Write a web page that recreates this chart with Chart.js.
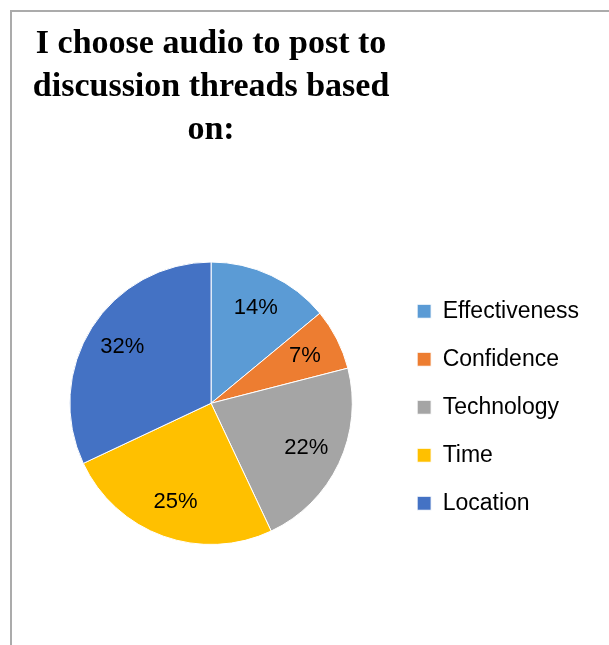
<!DOCTYPE html>
<html>
<head>
<meta charset="utf-8">
<script src="https://cdn.jsdelivr.net/npm/chart.js@4.4.0/dist/chart.umd.min.js"></script>
<style>
  html, body { margin: 0; padding: 0; background: #ffffff; }
  #wrap { position: relative; width: 609px; height: 645px; overflow: hidden; }
  #frame { position: absolute; left: 10px; top: 10px; width: 700px; height: 800px;
           border-left: 2px solid #ababab; border-top: 2px solid #ababab; box-sizing: border-box; }
  canvas { position: absolute; left: 0; top: 0; }
</style>
</head>
<body>
<div id="wrap">
  <div id="frame"></div>
  <canvas id="c" width="609" height="645"></canvas>
</div>
<script>
const titleLines = ["I choose audio to post to", "discussion threads based", "on:"];
const categories = ["Effectiveness", "Confidence", "Technology", "Time", "Location"];
const percentValues = [14, 7, 22, 25, 32];
const sliceColors = ["#5B9BD5", "#ED7D31", "#A5A5A5", "#FFC000", "#4472C4"];

const pieLabels = {
  id: 'pieLabels',
  afterDatasetsDraw(chart) {
    const ctx = chart.ctx;
    const meta = chart.getDatasetMeta(0);
    ctx.save();
    ctx.font = '22px "Liberation Sans", Arial, sans-serif';
    ctx.fillStyle = '#000000';
    ctx.textAlign = 'center';
    ctx.textBaseline = 'middle';
    meta.data.forEach((arc, i) => {
      const p = arc.getProps(['x', 'y', 'startAngle', 'endAngle', 'outerRadius'], true);
      const mid = (p.startAngle + p.endAngle) / 2;
      const r = p.outerRadius * 0.745;
      ctx.fillText(chart.data.datasets[0].data[i] + '%', p.x + Math.cos(mid) * r, p.y + Math.sin(mid) * r);
    });
    ctx.restore();
  }
};

new Chart(document.getElementById('c'), {
  type: 'pie',
  data: {
    labels: categories,
    datasets: [{
      data: percentValues,
      backgroundColor: sliceColors,
      borderColor: '#ffffff',
      borderWidth: 1
    }]
  },
  options: {
    responsive: false,
    animation: false,
    layout: { padding: { left: 30, top: 10, right: 20, bottom: 100 } },
    plugins: {
      tooltip: { enabled: false },
      title: {
        display: true,
        text: titleLines,
        fullSize: false,
        color: '#000000',
        font: { family: '"Liberation Serif", "Times New Roman", serif', size: 34, weight: 'bold', lineHeight: 1.26 },
        padding: { top: 13, bottom: 110 }
      },
      legend: {
        display: true,
        position: 'right',
        fullSize: false,
        title: { display: true, text: ' ', font: { size: 8, lineHeight: 1 }, padding: 0 },
        labels: {
          color: '#000000',
          font: { family: '"Liberation Sans", Arial, sans-serif', size: 23 },
          boxWidth: 14,
          boxHeight: 14,
          padding: 25
        }
      }
    }
  },
  plugins: [pieLabels]
});
</script>
</body>
</html>
